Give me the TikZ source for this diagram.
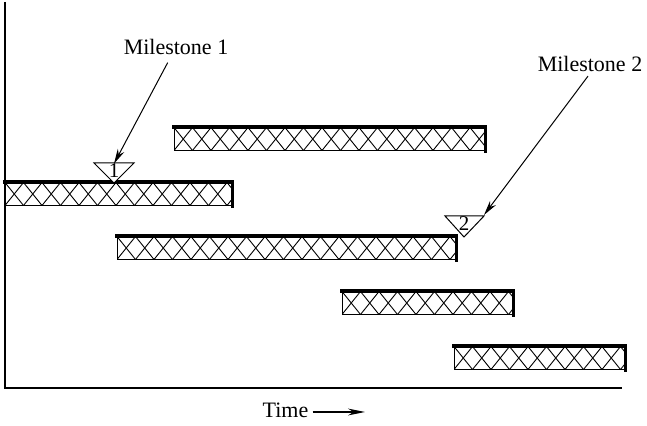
\documentclass[tikz,border=0pt]{standalone}
\usepackage{fontspec}
\setmainfont{Liberation Serif}
\usetikzlibrary{positioning,arrows.meta}

\begin{document}
\begin{tikzpicture}[
		x=0.5pt, y=-0.5pt,
		node distance=0.2cm,
		every node/.style={font=\fontsize{11}{13}\selectfont},
		axis/.style={line width=0.65pt},
		bar/.style={
			draw,
			line width=0.5pt,
			minimum height=11.5pt,
			inner sep=0pt,
			path picture={
				\foreach \k in {-2,...,36}
					\draw[line width=0.45pt]
						([xshift=\k*9.25pt]path picture bounding box.north west) -- ++(9.25pt,-11.5pt)
						([xshift=\k*9.25pt]path picture bounding box.north west) -- ++(-9.25pt,-11.5pt);
			}
		},
		rim/.style={line width=1.6pt, line cap=rect},
		tri/.style={draw, line width=0.5pt, fill=white},
		num/.style={font=\fontsize{10.5}{12}\selectfont, inner sep=0pt},
		callout/.style={inner sep=2pt},
		pointer/.style={
			-{Stealth[length=7.5pt, width=3.6pt]},
			line width=0.5pt
		}
	]
		\useasboundingbox (0,0) rectangle (647,426);

		% axes
		\coordinate (top) at (5,2);
		\coordinate (origin) at (5,388);
		\coordinate (xend) at (622,388);
		\draw[axis] (top) -- (origin) -- (xend);

		% activity bars
		\node[bar, minimum width=155.5pt] (barB) at (329.5,139) {};
		\node[bar, minimum width=113.5pt] (barA) at (118.5,194) {};
		\node[bar, minimum width=169.5pt] (barC) at (286.5,248) {};
		\node[bar, minimum width=85.5pt] (barD) at (427.5,303) {};
		\node[bar, minimum width=85.5pt] (barE) at (539.5,358) {};
		\foreach \b in {barA,barB,barC,barD,barE}
			\draw[rim] (\b.north west) -- (\b.north east) -- (\b.south east);

		% milestones
		\draw[tri] (94,163) -- (134,163) -- (114,183) -- cycle;
		\node[num] (ms1) at (114,171) {1};
		\draw[tri] (445,216) -- (484,216) -- (464,237) -- cycle;
		\node[num] (ms2) at (464,224) {2};
		\coordinate (ms2corner) at (484,215);

		\node[callout] (lbl1) at (176,47) {Milestone 1};
		\node[callout] (lbl2) at (590,64) {Milestone 2};
		\draw[pointer, shorten <=2pt] (lbl1) -- (ms1.north);
		\draw[pointer] ([xshift=-1pt]lbl2.south) -- (ms2corner);

		% time axis label
		\node[callout] (time) at (285.5,410) {Time};
		\coordinate (timeend) at (365,412);
		\draw[pointer, line width=0.65pt, -{Stealth[length=8.5pt, width=3.4pt]}]
			(time.east |- timeend) -- (timeend);
	\end{tikzpicture}
\end{document}
